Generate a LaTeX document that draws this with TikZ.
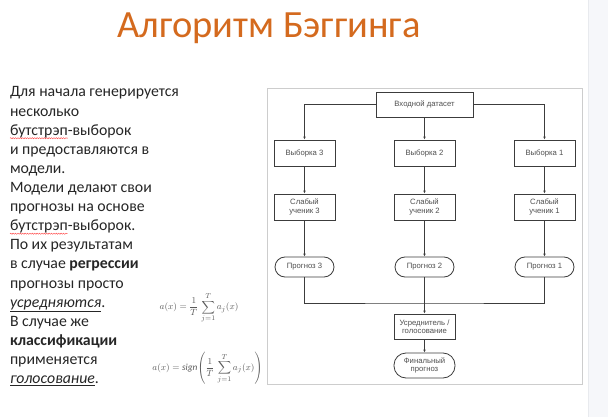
\documentclass[tikz,border=0pt]{standalone}
\usepackage{fontspec}
\usepackage{amsmath}
\setmainfont{Carlito}
\newfontfamily\diafont{Liberation Sans}
\usetikzlibrary{arrows.meta,decorations.pathmorphing}
\definecolor{titleorange}{RGB}{212,106,30}
\definecolor{bodytext}{RGB}{38,38,38}
\definecolor{frameline}{RGB}{205,205,205}
\definecolor{stripfill}{RGB}{246,247,250}
\definecolor{stripline}{RGB}{232,234,238}
\definecolor{boxline}{RGB}{60,60,60}
\definecolor{boxtext}{RGB}{80,80,80}
\definecolor{formula}{RGB}{90,90,90}
\tikzset{
  line/.style={draw=boxline, line width=0.8pt},
  arr/.style={line, -{Latex[length=3pt,width=2.6pt]}},
  flowbox/.style={draw=boxline, line width=0.8pt, fill=white, text=boxtext,
    font=\diafont\fontsize{7.7}{8.4}\selectfont, align=center,
    minimum width=61pt, minimum height=26pt, inner sep=1pt},
  widebox/.style={flowbox, minimum width=97pt, minimum height=25pt},
  roundbox/.style={flowbox, rounded corners=10pt, minimum width=59pt, minimum height=20pt},
  finalbox/.style={flowbox, rounded corners=12pt, minimum height=25pt},
  bodyline/.style={anchor=base west, inner sep=0pt, outer sep=0pt, text=bodytext,
    font=\fontsize{15.8}{18}\selectfont},
  spell/.style={draw=red!75, line width=0.4pt,
    decorate, decoration={snake, amplitude=0.6pt, segment length=2.4pt}},
  formulatext/.style={text=formula, inner sep=0pt, font=\fontsize{9.3}{11}\selectfont},
}
\begin{document}
\begin{tikzpicture}[x=1pt, y=-1pt]
  % canvas and right-hand strip
  \fill[white] (0,0) rectangle (608,417);
  \useasboundingbox (0,0) rectangle (608,417);
  \fill[stripfill] (588,0) rectangle (608,417);
  \draw[stripline, line width=0.6pt] (588,0) -- (588,417);

  % title
  \node[anchor=base, inner sep=0pt, text=titleorange,
        font=\fontsize{38.5}{42}\selectfont] (title) at (269,38) {Алгоритм Бэггинга};

  % explanatory text, one node per line
  \node[bodyline] (t1) at (10,97.0) {Для начала генерируется};
  \node[bodyline] (t2) at (10,116.1) {несколько};
  \node[bodyline] (t3a) at (10,135.2) {бутстрэп};
  \node[bodyline] (t3b) at (t3a.base east) {-выборок};
  \node[bodyline] (t4) at (10,154.3) {и предоставляются в};
  \node[bodyline] (t5) at (10,173.4) {модели.};
  \node[bodyline] (t6) at (10,192.5) {Модели делают свои};
  \node[bodyline] (t7) at (10,211.6) {прогнозы на основе};
  \node[bodyline] (t8a) at (10,230.7) {бутстрэп};
  \node[bodyline] (t8b) at (t8a.base east) {-выборок.};
  \node[bodyline] (t9) at (10,249.8) {По их результатам};
  \node[bodyline] (t10) at (10,268.9) {в случае \textbf{регрессии}};
  \node[bodyline] (t11) at (10,288.0) {прогнозы просто};
  \node[bodyline] (t12) at (10,307.1) {\underline{\textit{усредняются}}.};
  \node[bodyline] (t13) at (10,326.2) {В случае же};
  \node[bodyline] (t14) at (10,345.3) {\textbf{классификации}};
  \node[bodyline] (t15) at (10,364.4) {применяется};
  \node[bodyline] (t16) at (10,383.5) {\underline{\textit{голосование}}.};
  \draw[spell] ([yshift=-3pt]t3a.base west) -- ([yshift=-3pt]t3a.base east);
  \draw[spell] ([yshift=-3pt]t8a.base west) -- ([yshift=-3pt]t8a.base east);

  % aggregation formulas
  \node[formulatext] (f1) at (199,308)
    {$\displaystyle a(x)=\frac{1}{T}\,\sum_{j=1}^{T}a_j(x)$};
  \node[formulatext] (f2) at (207.5,368)
    {$\displaystyle a(x)=\mathit{sign}\!\left(\frac{1}{T}\,\sum_{j=1}^{T}a_j(x)\right)$};

  % flowchart frame
  \draw[frameline, line width=0.8pt] (267,88) rectangle (582,384);

  % flowchart nodes
  \node[widebox] (in) at (424.5,104.5) {Входной датасет};
  \node[flowbox] (s3) at (304.5,153) {Выборка 3};
  \node[flowbox] (s2) at (424.5,153) {Выборка 2};
  \node[flowbox] (s1) at (544.5,153) {Выборка 1};
  \node[flowbox] (l3) at (304.5,207) {Слабый\\ученик 3};
  \node[flowbox] (l2) at (424.5,207) {Слабый\\ученик 2};
  \node[flowbox] (l1) at (544.5,207) {Слабый\\ученик 1};
  \node[roundbox] (p3) at (304.5,267) {Прогноз 3};
  \node[roundbox] (p2) at (424.5,267) {Прогноз 2};
  \node[roundbox] (p1) at (544.5,267) {Прогноз 1};
  \node[flowbox, minimum height=25pt] (avg) at (424.5,326.5) {Усреднитель /\\голосование};
  \node[finalbox] (fin) at (424.5,365.5) {Финальный\\прогноз};
  \coordinate (join) at (424.5,303);

  % connectors
  \draw[arr] (in.west) -| (s3.north);
  \draw[arr] (in.south) -- (s2.north);
  \draw[arr] (in.east) -| (s1.north);
  \foreach \k in {1,2,3} {
    \draw[arr] (s\k.south) -- (l\k.north);
    \draw[arr] (l\k.south) -- (p\k.north);
  }
  \draw[line] (p3.south) |- (join) -| (p1.south);
  \draw[arr] (p2.south) -- (avg.north);
  \draw[arr] (avg.south) -- (fin.north);
\end{tikzpicture}
\end{document}
